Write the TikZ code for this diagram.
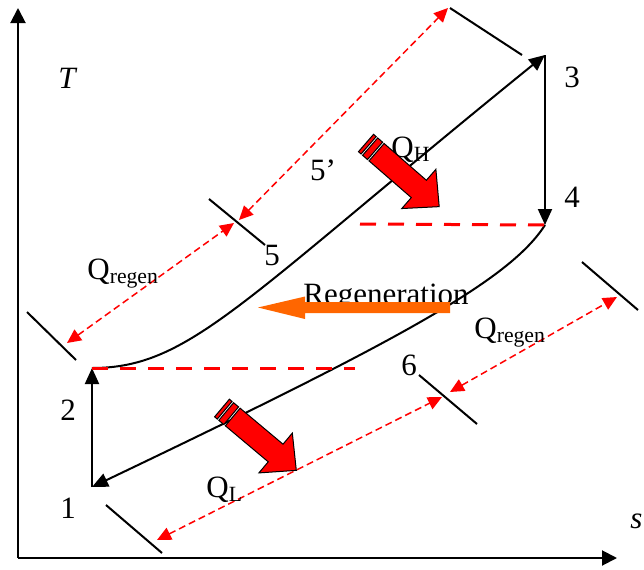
\documentclass[tikz,border=0pt]{standalone}
\usepackage{fontspec}
\setmainfont{Liberation Serif}
\usetikzlibrary{arrows.meta}

\definecolor{regenorange}{RGB}{255,102,0}

\begin{document}
\begin{tikzpicture}[x=0.5pt, y=-0.5pt,
	every node/.style={font=\fontsize{15.5}{18}\selectfont, inner sep=0pt},
	>={Triangle[length=8pt,width=7pt]},
	process/.style={line width=1pt},
	bound/.style={line width=1pt},
	regen/.style={red, line width=0.75pt, dash pattern=on 3.5pt off 2pt,
		{Triangle[length=7pt,width=6.5pt]}-{Triangle[length=7pt,width=6.5pt]}},
	level/.style={red, line width=1.5pt, dash pattern=on 8pt off 6pt},
	heatarrow/.pic={
		\draw[line width=0.5pt, fill=red] (0,-11.5) rectangle (3.5,11.5) (5.5,-11.5) rectangle (12,11.5)
			(14,-11.5) -- (70,-11.5) -- (70,-26) -- (97,0) -- (70,26) -- (70,11.5) -- (14,11.5) -- cycle;
	}]
	\useasboundingbox (0,0) rectangle (644,569);
	% axes
	\coordinate (origin) at (18,558);
	\coordinate (tend) at (18,8);
	\coordinate (send) at (617,558);
	\draw[line width=1pt, -{Triangle[length=7.5pt,width=7.5pt]}] (origin) -- (tend);
	\draw[line width=1pt, -{Triangle[length=7.5pt,width=7.5pt]}] (origin) -- (send);
	\node (tlab) at (68,78) {\textit{T}};
	\node[anchor=base west] (slab) at (630,528) {\textit{s}};

	% states
	\coordinate (p1) at (92,487);
	\coordinate (p2) at (92,368);
	\coordinate (p3) at (545,55);
	\coordinate (p4) at (545,225);

	% cycle
	\draw[process, ->] (p1) -- (p2);
	\draw[process, ->] (p2) .. controls (190,368) and (240,302) .. (p3);
	\draw[process, ->] (p3) -- (p4);
	\draw[process, ->] (p4) .. controls (510,280) and (400,340) .. (p1);

	% regeneration levels
	\coordinate (lev2) at (355,368);
	\coordinate (lev4) at (360,224);
	\draw[level] (p2) -- (lev2);
	\draw[level] (lev4) -- (p4);

	% boundary marks
	\draw[bound] (450,8) -- (522,55);
	\draw[bound] (209,199) -- (265,245);
	\draw[bound] (27,312) -- (76,360);
	\draw[bound] (106,505) -- (162,553);
	\draw[bound] (419,375) -- (477,424);
	\draw[bound] (582,262) -- (638,310);

	% heat exchanged
	\coordinate (a1) at (67,343);
	\coordinate (a2) at (234,223);
	\coordinate (a3) at (239,220);
	\coordinate (a4) at (448,8);
	\coordinate (b1) at (157,540);
	\coordinate (b2) at (442,397);
	\coordinate (b3) at (450,392);
	\coordinate (b4) at (617,297);
	\draw[regen] (a1) -- (a2);
	\draw[regen] (a3) -- (a4);
	\draw[regen] (b1) -- (b2);
	\draw[regen] (b3) -- (b4);

	% labels
	\node (n1) at (68,508) {1};
	\node (n2) at (68,410) {2};
	\node (n3) at (572,77) {3};
	\node (n4) at (572,197) {4};
	\node (n5) at (272,255) {5};
	\node (n5p) at (323,170) {5'};
	\node (n6) at (409,365) {6};
	\node[anchor=base west] (qregenl) at (87,279) {Q\textsubscript{regen}};
	\node[anchor=base west] (qregenr) at (474,338) {Q\textsubscript{regen}};
	\node[anchor=base west] (qh) at (391,157) {Q\textsubscript{H}};
	\node[anchor=base west] (ql) at (206,497) {Q\textsubscript{L}};

	% regeneration arrow
	\node[anchor=base west] (regentext) at (303,304) {Regeneration};
	\fill[regenorange] (450,302) -- (305,302) -- (305,296.5) -- (258,307.5)
		-- (305,319) -- (305,313) -- (450,313) -- cycle;

	% heat in and out
	\pic[rotate=-41] at (366,143) {heatarrow};
	\pic[rotate=-40] at (222,408) {heatarrow};
\end{tikzpicture}
\end{document}
